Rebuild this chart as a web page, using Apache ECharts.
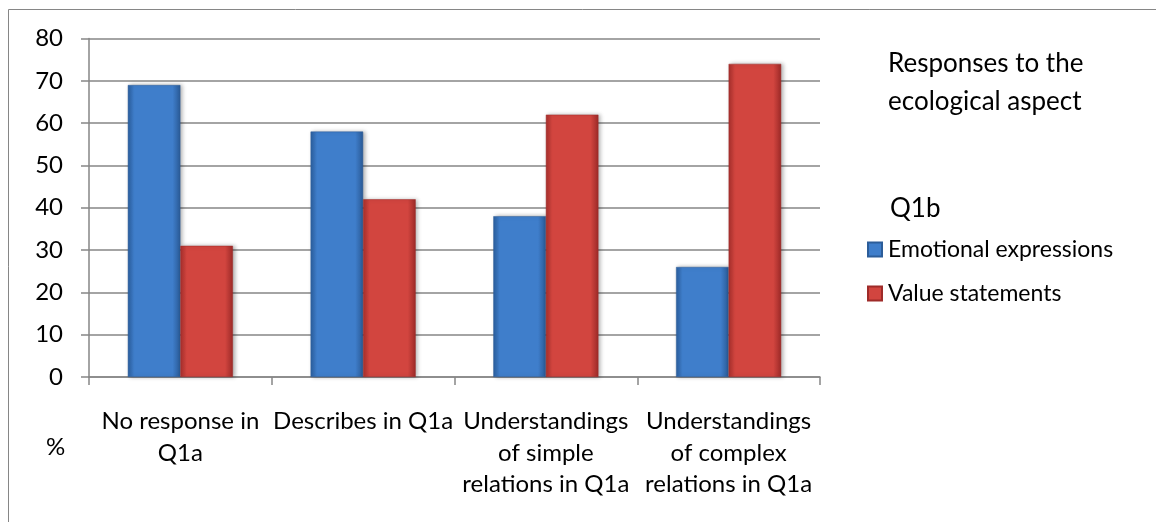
<!DOCTYPE html>
<html><head><meta charset="utf-8">
<script src="https://cdn.jsdelivr.net/npm/echarts@6/dist/echarts.min.js"></script>
<style>html,body{margin:0;padding:0;background:#fff}#c{width:1156px;height:522px}</style>
</head><body><div id="c"></div>
<script>
const categories = ["No response in\nQ1a", "Describes in Q1a", "Understandings\nof simple\nrelations in Q1a", "Understandings\nof complex\nrelations in Q1a"];
const emotional = [69, 58, 38, 26];
const valueStatements = [31, 42, 62, 74];
const seriesNames = ["Emotional expressions", "Value statements"];
const titleText = "Responses to the\necological aspect";
const legendTitle = "Q1b";
const yAxisName = "%";

const FONT = "Lato, 'Open Sans', sans-serif";
function grad(a, b, c) {
  return new echarts.graphic.LinearGradient(0, 0, 1, 0, [
    {offset: 0, color: a}, {offset: 0.12, color: b}, {offset: 0.85, color: b}, {offset: 1, color: c}
  ]);
}
const chart = echarts.init(document.getElementById('c'), null, {renderer: 'canvas'});
chart.setOption({
  backgroundColor: '#fff',
  animation: false,
  grid: {left: 89, right: 336, top: 38.5, bottom: 145},
  xAxis: {
    type: 'category', data: categories,
    axisLine: {lineStyle: {color: '#868686', width: 1.5}},
    axisTick: {show: true, length: 8, lineStyle: {color: '#868686', width: 1.5}},
    axisLabel: {color: '#000', fontFamily: FONT, fontSize: 24, lineHeight: 31.5, margin: 29, interval: 0}
  },
  yAxis: {
    type: 'value', min: 0, max: 80, interval: 10,
    axisLine: {show: true, lineStyle: {color: '#868686', width: 1.5}},
    axisTick: {show: true, length: 8, lineStyle: {color: '#868686', width: 1.5}},
    splitLine: {lineStyle: {color: '#868686', width: 1.5}},
    axisLabel: {color: '#000', fontFamily: FONT, fontSize: 24, margin: 26}
  },
  legend: {
    orient: 'vertical', left: 862, top: 233, itemGap: 21,
    itemWidth: 14, itemHeight: 14, icon: 'rect',
    textStyle: {color: '#000', fontFamily: FONT, fontSize: 23, padding: [0, 0, 0, 1]},
    data: seriesNames
  },
  graphic: [
    {type: 'rect', silent: true, shape: {x: 8.5, y: 9.5, width: 1200, height: 600},
     style: {fill: 'none', stroke: '#868686', lineWidth: 1}},
    {type: 'text', left: 888, top: 45, style: {text: titleText, fontFamily: FONT, fontSize: 26, lineHeight: 38, fill: '#000'}},
    {type: 'text', left: 890, top: 196, style: {text: legendTitle, fontFamily: FONT, fontSize: 26, fill: '#000'}},
    {type: 'text', left: 46, top: 435, style: {text: yAxisName, fontFamily: FONT, fontSize: 24, fill: '#000'}}
  ],
  series: [
    {name: seriesNames[0], type: 'bar', data: emotional, barGap: '0%', barCategoryGap: '42.5%',
     itemStyle: {color: grad('#2b5f9f', '#3f7ecb', '#2a5a96'), borderColor: '#2c5d99', borderWidth: 0.5,
       shadowBlur: 4, shadowColor: 'rgba(0,0,0,0.3)', shadowOffsetX: 2}},
    {name: seriesNames[1], type: 'bar', data: valueStatements,
     itemStyle: {color: grad('#a9302d', '#d2453f', '#9c2a28'), borderColor: '#9e2b29', borderWidth: 0.5,
       shadowBlur: 4, shadowColor: 'rgba(0,0,0,0.3)', shadowOffsetX: 2}}
  ]
});
</script></body></html>
